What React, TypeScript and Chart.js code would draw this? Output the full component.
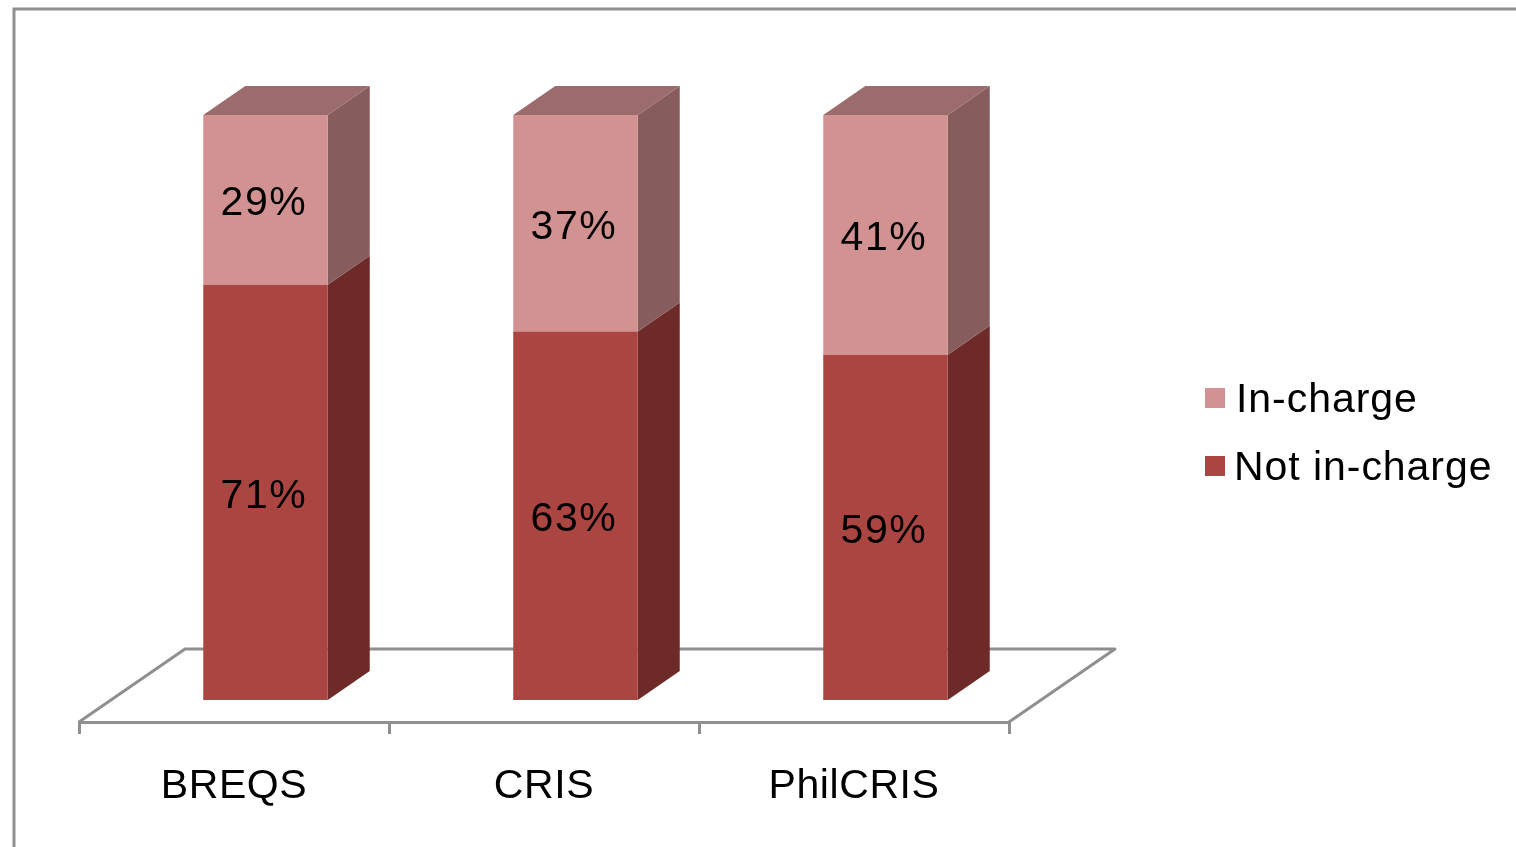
import React, { useEffect, useRef } from "react";
import { Chart, registerables } from "chart.js";

Chart.register(...registerables);

const systems = ["BREQS", "CRIS", "PhilCRIS"];
const notInCharge = [71, 63, 59];
const inCharge = [29, 37, 41];

const FONT = '41px "Liberation Sans", Arial, sans-serif';
const GREY = "#8f8f8f";
const DARK_RED = { front: "#aa4541", side: "#6e2a28", top: "#8a3a38" };
const LIGHT_RED = { front: "#d29292", side: "#875c5c", top: "#9c6c6c" };

// Oblique projection: bar depth, floor depth and the bars' inset on the floor.
const BAR_DEPTH = { x: 42, y: -29 };
const FLOOR_DEPTH = { x: 106, y: -73 };
const BAR_INSET = { x: 31.5, y: -22 };

function poly(ctx: CanvasRenderingContext2D, pts: number[][], fill: string) {
  ctx.beginPath();
  pts.forEach(([x, y], i) => (i ? ctx.lineTo(x, y) : ctx.moveTo(x, y)));
  ctx.closePath();
  ctx.fillStyle = fill;
  ctx.fill();
}

const pseudo3d = {
  id: "pseudo3d",
  beforeDraw(chart: any) {
    const { ctx } = chart;
    ctx.save();
    ctx.strokeStyle = GREY;
    ctx.lineWidth = 3;
    ctx.beginPath();
    ctx.moveTo(14, 847);
    ctx.lineTo(14, 9);
    ctx.lineTo(1516, 9);
    ctx.stroke();
    ctx.restore();
    // Slightly open tracking for the axis labels.
    ctx.letterSpacing = "0.6px";
  },
  beforeDatasetsDraw(chart: any) {
    const { ctx, chartArea: a } = chart;
    ctx.save();
    ctx.strokeStyle = GREY;
    ctx.lineWidth = 3;
    ctx.lineJoin = "round";
    ctx.beginPath();
    ctx.moveTo(a.left, a.bottom);
    ctx.lineTo(a.left + FLOOR_DEPTH.x, a.bottom + FLOOR_DEPTH.y);
    ctx.lineTo(a.right + FLOOR_DEPTH.x, a.bottom + FLOOR_DEPTH.y);
    ctx.lineTo(a.right, a.bottom);
    ctx.stroke();
    ctx.restore();

    // The translation stays active until the bars and their labels are drawn.
    ctx.save();
    ctx.translate(BAR_INSET.x, BAR_INSET.y);
    chart.data.datasets.forEach((ds: any, di: number) => {
      const faces = di === 0 ? DARK_RED : LIGHT_RED;
      chart.getDatasetMeta(di).data.forEach((bar: any) => {
        const right = bar.x + bar.width / 2;
        const left = bar.x - bar.width / 2;
        const d = BAR_DEPTH;
        poly(ctx, [[right, bar.y], [right + d.x, bar.y + d.y], [right + d.x, bar.base + d.y], [right, bar.base]], faces.side);
        if (di === chart.data.datasets.length - 1) {
          poly(ctx, [[left, bar.y], [left + d.x, bar.y + d.y], [right + d.x, bar.y + d.y], [right, bar.y]], faces.top);
        }
      });
    });
  },
  afterDatasetsDraw(chart: any) {
    const { ctx } = chart;
    ctx.font = FONT;
    ctx.letterSpacing = "1.6px";
    ctx.fillStyle = "#000";
    ctx.textAlign = "center";
    ctx.textBaseline = "middle";
    chart.data.datasets.forEach((ds: any, di: number) => {
      chart.getDatasetMeta(di).data.forEach((bar: any, i: number) => {
        ctx.fillText(`${ds.data[i]}%`, bar.x - 1.5, (bar.y + bar.base) / 2 + 4);
      });
    });
    ctx.restore();
  },
  afterDraw(chart: any) {
    const { ctx } = chart;
    ctx.save();
    ctx.font = FONT;
    ctx.letterSpacing = "0.95px";
    ctx.fillStyle = "#000";
    ctx.textAlign = "left";
    ctx.textBaseline = "middle";
    [...chart.data.datasets].reverse().forEach((ds: any, i: number) => {
      const y = 398 + i * 68;
      ctx.fillStyle = ds.backgroundColor;
      ctx.fillRect(1205, y - 10, 20, 20);
      ctx.fillStyle = "#000";
      ctx.fillText(ds.label, i === 0 ? 1236 : 1234, y + 3);
    });
    ctx.restore();
  },
};

export default function App() {
  const ref = useRef<HTMLCanvasElement>(null);

  useEffect(() => {
    const chart = new Chart(ref.current!, {
      type: "bar",
      data: {
        labels: systems,
        datasets: [
          { label: "Not in-charge", data: notInCharge, backgroundColor: DARK_RED.front, clip: false },
          { label: "In-charge", data: inCharge, backgroundColor: LIGHT_RED.front, clip: false },
        ],
      },
      options: {
        responsive: false,
        animation: false,
        layout: { padding: { left: 79, right: 507, top: 137, bottom: 0 } },
        categoryPercentage: 1,
        barPercentage: 0.4016,
        plugins: { legend: { display: false }, tooltip: { enabled: false } },
        scales: {
          x: {
            stacked: true,
            afterFit(scale: any) {
              scale.height = 125;
            },
            border: { display: true, color: GREY, width: 3 },
            grid: { color: GREY, lineWidth: 3, drawOnChartArea: false, drawTicks: true, tickLength: 12 },
            ticks: {
              color: "#000",
              padding: 28,
              maxRotation: 0,
              font: { family: '"Liberation Sans", Arial, sans-serif', size: 41 },
            },
          },
          y: { stacked: true, display: false, min: 0, max: 100 },
        },
      } as any,
      plugins: [pseudo3d],
    });
    return () => chart.destroy();
  }, []);

  return (
    <canvas
      ref={ref}
      width={1516}
      height={847}
      style={{ position: "absolute", left: 0, top: 0, background: "#fff" }}
    />
  );
}
